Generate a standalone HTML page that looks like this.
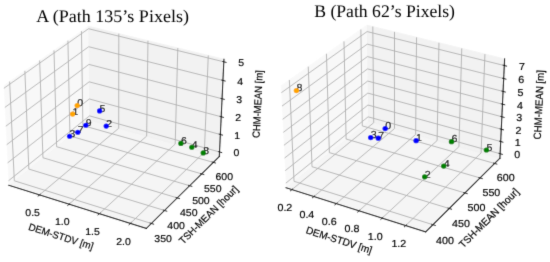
<!DOCTYPE html>
<html><head><meta charset="utf-8"><style>
html,body{margin:0;padding:0;background:#fff;}
#c{position:relative;will-change:transform;width:550px;height:262px;overflow:hidden;background:#fff;}
svg text{fill:#000;text-rendering:geometricPrecision;}
</style></head><body><div id="c">
<svg width="550" height="262" viewBox="0 0 550 262" style="position:absolute;left:0;top:0">
<defs><filter id="bl" x="-5%" y="-5%" width="110%" height="110%"><feConvolveMatrix order="3" kernelMatrix="0.01134 0.08382 0.01134 0.08382 0.61935 0.08382 0.01134 0.08382 0.01134" preserveAlpha="false" edgeMode="none"/></filter></defs>
<rect width="550" height="262" fill="#fff"/>
<g filter="url(#bl)">
<svg x="-104.548" y="-28.626" width="423.822" height="305.501" viewBox="0 0 460.8 345.6" preserveAspectRatio="none" overflow="visible">
 
 
 <g id="figure_1">
  <g id="patch_1">
   <path d="M 0 345.6 
L 460.8 345.6 
L 460.8 0 
L 0 0 
L 0 345.6 
z
" style="fill: none; opacity: 0"/>
  </g>
  <g id="patch_2">
   <path d="M 103.104 307.584 
L 369.216 307.584 
L 369.216 41.472 
L 103.104 41.472 
L 103.104 307.584 
z
" style="fill: none; opacity: 0"/>
  </g>
  <g id="pane3d_1">
   <g id="patch_3">
    <path d="M 123.197291 241.969309 
L 211.076164 168.307495 
L 209.854564 62.073991 
L 117.770234 129.272941 
" style="fill: #f2f2f2; opacity: 0.5; stroke: #f2f2f2; stroke-linejoin: miter"/>
   </g>
  </g>
  <g id="pane3d_2">
   <g id="patch_4">
    <path d="M 211.076164 168.307495 
L 352.090401 209.294766 
L 357.122702 99.402171 
L 209.854564 62.073991 
" style="fill: #e6e6e6; opacity: 0.5; stroke: #e6e6e6; stroke-linejoin: miter"/>
   </g>
  </g>
  <g id="pane3d_3">
   <g id="patch_5">
    <path d="M 123.197291 241.969309 
L 272.679269 290.790123 
L 352.090401 209.294766 
L 211.076164 168.307495 
" style="fill: #ececec; opacity: 0.5; stroke: #ececec; stroke-linejoin: miter"/>
   </g>
  </g>
  <g id="grid3d_1">
   <g id="Line3DCollection_1">
    <path d="M 156.626679 252.887347 
L 242.720096 177.505137 
L 242.847808 70.436817 
" style="fill: none; stroke: #b0b0b0; stroke-width: 1.0"/>
    <path d="M 188.791888 263.392504 
L 273.108364 186.337806 
L 274.561266 78.475254 
" style="fill: none; stroke: #b0b0b0; stroke-width: 1.0"/>
    <path d="M 221.706375 274.142375 
L 304.144787 195.358869 
L 306.980939 86.692696 
" style="fill: none; stroke: #b0b0b0; stroke-width: 1.0"/>
    <path d="M 255.39663 285.145613 
L 335.850326 204.574418 
L 340.130683 95.095189 
" style="fill: none; stroke: #b0b0b0; stroke-width: 1.0"/>
   </g>
  </g>
  <g id="grid3d_2">
   <g id="Line3DCollection_2">
    <path d="M 124.126877 124.634152 
L 129.24222 236.90233 
L 278.164227 285.161206 
" style="fill: none; stroke: #b0b0b0; stroke-width: 1.0"/>
    <path d="M 140.711972 112.531105 
L 145.028925 223.6696 
L 292.472807 270.477083 
" style="fill: none; stroke: #b0b0b0; stroke-width: 1.0"/>
    <path d="M 156.792903 100.795974 
L 160.35635 210.821849 
L 306.343386 256.242457 
" style="fill: none; stroke: #b0b0b0; stroke-width: 1.0"/>
    <path d="M 172.392316 89.412233 
L 175.244249 198.342517 
L 319.795772 242.436999 
" style="fill: none; stroke: #b0b0b0; stroke-width: 1.0"/>
    <path d="M 187.531519 78.364332 
L 189.711262 186.21598 
L 332.848597 229.04159 
" style="fill: none; stroke: #b0b0b0; stroke-width: 1.0"/>
    <path d="M 202.230582 67.637626 
L 203.774987 174.427487 
L 345.519402 216.038227 
" style="fill: none; stroke: #b0b0b0; stroke-width: 1.0"/>
   </g>
  </g>
  <g id="grid3d_3">
   <g id="Line3DCollection_3">
    <path d="M 352.319503 204.291764 
L 211.020437 163.461323 
L 122.950615 236.846913 
" style="fill: none; stroke: #b0b0b0; stroke-width: 1.0"/>
    <path d="M 353.223459 184.551669 
L 210.800662 144.34912 
L 121.976946 216.628058 
" style="fill: none; stroke: #b0b0b0; stroke-width: 1.0"/>
    <path d="M 354.142051 164.491955 
L 210.577499 124.942316 
L 120.986909 196.069289 
" style="fill: none; stroke: #b0b0b0; stroke-width: 1.0"/>
    <path d="M 355.075638 144.104798 
L 210.35087 105.234048 
L 119.980086 175.16196 
" style="fill: none; stroke: #b0b0b0; stroke-width: 1.0"/>
    <path d="M 356.02459 123.382113 
L 210.120693 85.217237 
L 118.956047 153.897133 
" style="fill: none; stroke: #b0b0b0; stroke-width: 1.0"/>
    <path d="M 356.98929 102.315548 
L 209.886883 64.88458 
L 117.914347 132.265558 
" style="fill: none; stroke: #b0b0b0; stroke-width: 1.0"/>
   </g>
  </g>
  <g id="axis3d_1">
   <g id="line2d_1">
    <path d="M 123.197291 241.969309 
L 272.679269 290.790123 
" style="fill: none; stroke: #000000; stroke-width: 1.1; stroke-linecap: square"/>
   </g>
   <g id="xtick_1">
    <g id="line2d_2">
     <path d="M 157.376912 252.230454 
L 155.122966 254.203978 
" style="fill: none; stroke: #000000; stroke-width: 0.9; stroke-linecap: square"/>
    </g>
    <g id="text_1">
     <text style="font-size: 11.20px; font-family: 'Liberation Sans'; text-anchor: middle; stroke: #000; stroke-width: 0.20" x="149.122523" y="276.365155" transform="rotate(-0 149.122523 276.365155)" textLength="15.902" lengthAdjust="spacingAndGlyphs">0.5</text>
    </g>
   </g>
   <g id="xtick_2">
    <g id="line2d_3">
     <path d="M 189.527329 262.720403 
L 187.317785 264.739649 
" style="fill: none; stroke: #000000; stroke-width: 0.9; stroke-linecap: square"/>
    </g>
    <g id="text_2">
     <text style="font-size: 11.20px; font-family: 'Liberation Sans'; text-anchor: middle; stroke: #000; stroke-width: 0.20" x="181.323024" y="287.093679" transform="rotate(-0 181.323024 287.093679)" textLength="15.902" lengthAdjust="spacingAndGlyphs">1.0</text>
    </g>
   </g>
   <g id="xtick_3">
    <g id="line2d_4">
     <path d="M 222.426127 273.454533 
L 220.263681 275.521108 
" style="fill: none; stroke: #000000; stroke-width: 0.9; stroke-linecap: square"/>
    </g>
    <g id="text_3">
     <text style="font-size: 11.20px; font-family: 'Liberation Sans'; text-anchor: middle; stroke: #000; stroke-width: 0.20" x="214.276503" y="298.07308" transform="rotate(-0 214.276503 298.07308)" textLength="15.902" lengthAdjust="spacingAndGlyphs">1.5</text>
    </g>
   </g>
   <g id="xtick_4">
    <g id="line2d_5">
     <path d="M 256.099747 284.441469 
L 253.987244 286.557057 
" style="fill: none; stroke: #000000; stroke-width: 0.9; stroke-linecap: square"/>
    </g>
    <g id="text_4">
     <text style="font-size: 11.20px; font-family: 'Liberation Sans'; text-anchor: middle; stroke: #000; stroke-width: 0.20" x="248.009686" y="309.312262" transform="rotate(-0 248.009686 309.312262)" textLength="15.902" lengthAdjust="spacingAndGlyphs">2.0</text>
    </g>
   </g>
   <g id="text_5">
    <text style="font-size: 11.20px; font-family: 'Liberation Sans'; text-anchor: middle; stroke: #000; stroke-width: 0.20" x="178.819749" y="303.631238" transform="rotate(-341.912962 178.819749 303.631238)" textLength="73.797" lengthAdjust="spacingAndGlyphs">DEM-STDV [m]</text>
   </g>
  </g>
  <g id="axis3d_2">
   <g id="line2d_6">
    <path d="M 352.090401 209.294766 
L 272.679269 290.790123 
" style="fill: none; stroke: #000000; stroke-width: 1.1; stroke-linecap: square"/>
   </g>
   <g id="xtick_5">
    <g id="line2d_7">
     <path d="M 276.909257 284.754527 
L 280.677415 285.975616 
" style="fill: none; stroke: #000000; stroke-width: 0.9; stroke-linecap: square"/>
    </g>
    <g id="text_6">
     <text style="font-size: 11.20px; font-family: 'Liberation Sans'; text-anchor: middle; stroke: #000; stroke-width: 0.20" x="291.044991" y="306.183083" transform="rotate(-0 291.044991 306.183083)" textLength="19.095" lengthAdjust="spacingAndGlyphs">350</text>
    </g>
   </g>
   <g id="xtick_6">
    <g id="line2d_8">
     <path d="M 291.231271 270.082945 
L 294.959041 271.266362 
" style="fill: none; stroke: #000000; stroke-width: 0.9; stroke-linecap: square"/>
    </g>
    <g id="text_7">
     <text style="font-size: 11.20px; font-family: 'Liberation Sans'; text-anchor: middle; stroke: #000; stroke-width: 0.20" x="305.161676" y="291.281535" transform="rotate(-0 305.161676 291.281535)" textLength="19.095" lengthAdjust="spacingAndGlyphs">400</text>
    </g>
   </g>
   <g id="xtick_7">
    <g id="line2d_9">
     <path d="M 305.115056 255.860289 
L 308.803126 257.00775 
" style="fill: none; stroke: #000000; stroke-width: 0.9; stroke-linecap: square"/>
    </g>
    <g id="text_8">
     <text style="font-size: 11.20px; font-family: 'Liberation Sans'; text-anchor: middle; stroke: #000; stroke-width: 0.20" x="318.845983" y="276.836404" transform="rotate(-0 318.845983 276.836404)" textLength="19.095" lengthAdjust="spacingAndGlyphs">450</text>
    </g>
   </g>
   <g id="xtick_8">
    <g id="line2d_10">
     <path d="M 318.580422 242.066265 
L 322.229474 243.179384 
" style="fill: none; stroke: #000000; stroke-width: 0.9; stroke-linecap: square"/>
    </g>
    <g id="text_9">
     <text style="font-size: 11.20px; font-family: 'Liberation Sans'; text-anchor: middle; stroke: #000; stroke-width: 0.20" x="332.117478" y="262.827037" transform="rotate(-0 332.117478 262.827037)" textLength="19.095" lengthAdjust="spacingAndGlyphs">500</text>
    </g>
   </g>
   <g id="xtick_9">
    <g id="line2d_11">
     <path d="M 331.646003 228.681783 
L 335.25671 229.762079 
" style="fill: none; stroke: #000000; stroke-width: 0.9; stroke-linecap: square"/>
    </g>
    <g id="text_10">
     <text style="font-size: 11.20px; font-family: 'Liberation Sans'; text-anchor: middle; stroke: #000; stroke-width: 0.20" x="344.994562" y="249.234009" transform="rotate(-0 344.994562 249.234009)" textLength="19.095" lengthAdjust="spacingAndGlyphs">550</text>
    </g>
   </g>
   <g id="xtick_10">
    <g id="line2d_12">
     <path d="M 344.329344 215.688872 
L 347.90237 216.737776 
" style="fill: none; stroke: #000000; stroke-width: 0.9; stroke-linecap: square"/>
    </g>
    <g id="text_11">
     <text style="font-size: 11.20px; font-family: 'Liberation Sans'; text-anchor: middle; stroke: #000; stroke-width: 0.20" x="357.49456" y="236.039033" transform="rotate(-0 357.49456 236.039033)" textLength="19.095" lengthAdjust="spacingAndGlyphs">600</text>
    </g>
   </g>
   <g id="text_12">
    <text style="font-size: 11.20px; font-family: 'Liberation Sans'; text-anchor: middle; stroke: #000; stroke-width: 0.20" x="343.109062" y="278.15506" transform="rotate(-45.742112 343.109062 278.15506)" textLength="86.772" lengthAdjust="spacingAndGlyphs">TSH-MEAN [hour]</text>
   </g>
  </g>
  <g id="axis3d_3">
   <g id="line2d_13">
    <path d="M 352.090401 209.294766 
L 357.122702 99.402171 
" style="fill: none; stroke: #000000; stroke-width: 1.1; stroke-linecap: square"/>
   </g>
   <g id="xtick_11">
    <g id="line2d_14">
     <path d="M 351.133501 203.949052 
L 354.694332 204.978006 
" style="fill: none; stroke: #000000; stroke-width: 0.9; stroke-linecap: square"/>
    </g>
    <g id="text_13">
     <text style="font-size: 11.20px; font-family: 'Liberation Sans'; text-anchor: middle; stroke: #000; stroke-width: 0.20" x="370.604559" y="209.294938" transform="rotate(-0 370.604559 209.294938)" textLength="6.362" lengthAdjust="spacingAndGlyphs">0</text>
    </g>
   </g>
   <g id="xtick_12">
    <g id="line2d_15">
     <path d="M 352.027575 184.214099 
L 355.618099 185.227618 
" style="fill: none; stroke: #000000; stroke-width: 0.9; stroke-linecap: square"/>
    </g>
    <g id="text_14">
     <text style="font-size: 11.20px; font-family: 'Liberation Sans'; text-anchor: middle; stroke: #000; stroke-width: 0.20" x="371.652174" y="189.593844" transform="rotate(-0 371.652174 189.593844)" textLength="6.362" lengthAdjust="spacingAndGlyphs">1</text>
    </g>
   </g>
   <g id="xtick_13">
    <g id="line2d_16">
     <path d="M 352.93612 164.159741 
L 356.556835 165.157188 
" style="fill: none; stroke: #000000; stroke-width: 0.9; stroke-linecap: square"/>
    </g>
    <g id="text_15">
     <text style="font-size: 11.20px; font-family: 'Liberation Sans'; text-anchor: middle; stroke: #000; stroke-width: 0.20" x="372.716699" y="169.574738" transform="rotate(-0 372.716699 169.574738)" textLength="6.362" lengthAdjust="spacingAndGlyphs">2</text>
    </g>
   </g>
   <g id="xtick_14">
    <g id="line2d_17">
     <path d="M 353.859489 143.778159 
L 357.510907 144.758872 
" style="fill: none; stroke: #000000; stroke-width: 0.9; stroke-linecap: square"/>
    </g>
    <g id="text_16">
     <text style="font-size: 11.20px; font-family: 'Liberation Sans'; text-anchor: middle; stroke: #000; stroke-width: 0.20" x="373.798548" y="149.229856" transform="rotate(-0 373.798548 149.229856)" textLength="6.362" lengthAdjust="spacingAndGlyphs">3</text>
    </g>
   </g>
   <g id="xtick_15">
    <g id="line2d_18">
     <path d="M 354.798049 123.061279 
L 358.480693 124.024569 
" style="fill: none; stroke: #000000; stroke-width: 0.9; stroke-linecap: square"/>
    </g>
    <g id="text_17">
     <text style="font-size: 11.20px; font-family: 'Liberation Sans'; text-anchor: middle; stroke: #000; stroke-width: 0.20" x="374.898146" y="128.551181" transform="rotate(-0 374.898146 128.551181)" textLength="6.362" lengthAdjust="spacingAndGlyphs">4</text>
    </g>
   </g>
   <g id="xtick_16">
    <g id="line2d_19">
     <path d="M 355.752177 102.000759 
L 359.466586 102.945909 
" style="fill: none; stroke: #000000; stroke-width: 0.9; stroke-linecap: square"/>
    </g>
    <g id="text_18">
     <text style="font-size: 11.20px; font-family: 'Liberation Sans'; text-anchor: middle; stroke: #000; stroke-width: 0.20" x="376.015934" y="107.530431" transform="rotate(-0 376.015934 107.530431)" textLength="6.362" lengthAdjust="spacingAndGlyphs">5</text>
    </g>
   </g>
   <g id="text_19">
    <text style="font-size: 11.20px; font-family: 'Liberation Sans'; text-anchor: middle; stroke: #000; stroke-width: 0.20" x="397.683716" y="150.269131" transform="rotate(-87.378092 397.683716 150.269131)" textLength="76.731" lengthAdjust="spacingAndGlyphs">CHM-MEAN [m]</text>
   </g>
  </g>
  <g id="axes_1"/>
 </g>
<g id="ptsA"><text x="197.61" y="152.64" style="font-size:11.20px;font-family:'Liberation Sans';stroke:#000;stroke-width:0.20" textLength="6.362" lengthAdjust="spacingAndGlyphs">0</text><text x="192.60" y="162.37" style="font-size:11.20px;font-family:'Liberation Sans';stroke:#000;stroke-width:0.20" textLength="6.362" lengthAdjust="spacingAndGlyphs">1</text><text x="221.96" y="158.75" style="font-size:11.20px;font-family:'Liberation Sans';stroke:#000;stroke-width:0.20" textLength="6.362" lengthAdjust="spacingAndGlyphs">5</text><text x="206.96" y="174.92" style="font-size:11.20px;font-family:'Liberation Sans';stroke:#000;stroke-width:0.20" textLength="6.362" lengthAdjust="spacingAndGlyphs">9</text><text x="229.14" y="175.94" style="font-size:11.20px;font-family:'Liberation Sans';stroke:#000;stroke-width:0.20" textLength="6.362" lengthAdjust="spacingAndGlyphs">2</text><text x="198.26" y="182.95" style="font-size:11.20px;font-family:'Liberation Sans';stroke:#000;stroke-width:0.20" textLength="6.362" lengthAdjust="spacingAndGlyphs">7</text><text x="189.34" y="187.48" style="font-size:11.20px;font-family:'Liberation Sans';stroke:#000;stroke-width:0.20" textLength="6.362" lengthAdjust="spacingAndGlyphs">3</text><text x="310.35" y="195.51" style="font-size:11.20px;font-family:'Liberation Sans';stroke:#000;stroke-width:0.20" textLength="6.362" lengthAdjust="spacingAndGlyphs">6</text><text x="322.20" y="199.81" style="font-size:11.20px;font-family:'Liberation Sans';stroke:#000;stroke-width:0.20" textLength="6.362" lengthAdjust="spacingAndGlyphs">4</text><text x="334.60" y="206.26" style="font-size:11.20px;font-family:'Liberation Sans';stroke:#000;stroke-width:0.20" textLength="6.362" lengthAdjust="spacingAndGlyphs">8</text><circle cx="197.61" cy="151.73" r="2.90" fill="#ffa500"/><circle cx="192.60" cy="161.46" r="2.90" fill="#ffa500"/><circle cx="221.96" cy="157.84" r="2.90" fill="#0000ff"/><circle cx="206.96" cy="174.02" r="2.90" fill="#0000ff"/><circle cx="229.14" cy="175.04" r="2.90" fill="#0000ff"/><circle cx="198.26" cy="182.05" r="2.90" fill="#0000ff"/><circle cx="189.34" cy="186.57" r="2.90" fill="#0000ff"/><circle cx="310.35" cy="194.61" r="2.90" fill="#008000"/><circle cx="322.20" cy="198.90" r="2.90" fill="#008000"/><circle cx="334.60" cy="205.35" r="2.90" fill="#008000"/></g></svg>
<svg x="170.976" y="-30.950" width="430.453" height="312.344" viewBox="0 0 460.8 345.6" preserveAspectRatio="none" overflow="visible">
 
 
 <g id="figure_1">
  <g id="patch_1">
   <path d="M 0 345.6 
L 460.8 345.6 
L 460.8 0 
L 0 0 
L 0 345.6 
z
" style="fill: none; opacity: 0"/>
  </g>
  <g id="patch_2">
   <path d="M 103.104 307.584 
L 369.216 307.584 
L 369.216 41.472 
L 103.104 41.472 
L 103.104 307.584 
z
" style="fill: none; opacity: 0"/>
  </g>
  <g id="pane3d_1">
   <g id="patch_3">
    <path d="M 123.197291 241.969309 
L 211.076164 168.307495 
L 209.854564 62.073991 
L 117.770234 129.272941 
" style="fill: #f2f2f2; opacity: 0.5; stroke: #f2f2f2; stroke-linejoin: miter"/>
   </g>
  </g>
  <g id="pane3d_2">
   <g id="patch_4">
    <path d="M 211.076164 168.307495 
L 352.090401 209.294766 
L 357.122702 99.402171 
L 209.854564 62.073991 
" style="fill: #e6e6e6; opacity: 0.5; stroke: #e6e6e6; stroke-linejoin: miter"/>
   </g>
  </g>
  <g id="pane3d_3">
   <g id="patch_5">
    <path d="M 123.197291 241.969309 
L 272.679269 290.790123 
L 352.090401 209.294766 
L 211.076164 168.307495 
" style="fill: #ececec; opacity: 0.5; stroke: #ececec; stroke-linejoin: miter"/>
   </g>
  </g>
  <g id="grid3d_1">
   <g id="Line3DCollection_1">
    <path d="M 129.48295 244.022205 
L 217.030888 170.038298 
L 216.060814 63.647094 
" style="fill: none; stroke: #b0b0b0; stroke-width: 1.0"/>
    <path d="M 153.014644 251.707656 
L 239.303994 176.512211 
L 239.284538 69.533631 
" style="fill: none; stroke: #b0b0b0; stroke-width: 1.0"/>
    <path d="M 176.950074 259.524968 
L 261.927462 183.087959 
L 262.889426 75.516782 
" style="fill: none; stroke: #b0b0b0; stroke-width: 1.0"/>
    <path d="M 201.299721 267.477562 
L 284.909622 189.767966 
L 286.88494 81.598946 
" style="fill: none; stroke: #b0b0b0; stroke-width: 1.0"/>
    <path d="M 226.07443 275.568982 
L 308.259075 196.55473 
L 311.280857 87.7826 
" style="fill: none; stroke: #b0b0b0; stroke-width: 1.0"/>
    <path d="M 251.28543 283.802895 
L 331.984695 203.450831 
L 336.087284 94.070306 
" style="fill: none; stroke: #b0b0b0; stroke-width: 1.0"/>
   </g>
  </g>
  <g id="grid3d_2">
   <g id="Line3DCollection_2">
    <path d="M 126.727327 122.736462 
L 131.716061 234.828707 
L 280.407943 282.858602 
" style="fill: none; stroke: #b0b0b0; stroke-width: 1.0"/>
    <path d="M 146.954917 107.975289 
L 150.976931 218.683864 
L 297.858004 264.950547 
" style="fill: none; stroke: #b0b0b0; stroke-width: 1.0"/>
    <path d="M 166.433287 93.760861 
L 169.55476 203.111559 
L 314.657247 247.71039 
" style="fill: none; stroke: #b0b0b0; stroke-width: 1.0"/>
    <path d="M 185.203308 80.063354 
L 187.485249 188.081868 
L 330.841416 231.101451 
" style="fill: none; stroke: #b0b0b0; stroke-width: 1.0"/>
    <path d="M 203.302929 66.855075 
L 204.801652 173.566915 
L 346.443683 215.089687 
" style="fill: none; stroke: #b0b0b0; stroke-width: 1.0"/>
   </g>
  </g>
  <g id="grid3d_3">
   <g id="Line3DCollection_3">
    <path d="M 352.317714 204.330818 
L 211.020872 163.499149 
L 122.95254 236.886901 
" style="fill: none; stroke: #b0b0b0; stroke-width: 1.0"/>
    <path d="M 352.935026 190.850301 
L 210.87077 150.445829 
L 122.287687 223.080781 
" style="fill: none; stroke: #b0b0b0; stroke-width: 1.0"/>
    <path d="M 353.559146 177.221108 
L 210.71909 137.255421 
L 121.615221 209.11659 
" style="fill: none; stroke: #b0b0b0; stroke-width: 1.0"/>
    <path d="M 354.190188 163.440767 
L 210.56581 123.925754 
L 120.935011 194.991599 
" style="fill: none; stroke: #b0b0b0; stroke-width: 1.0"/>
    <path d="M 354.828267 149.506748 
L 210.410902 110.454612 
L 120.246924 180.703014 
" style="fill: none; stroke: #b0b0b0; stroke-width: 1.0"/>
    <path d="M 355.473502 135.416468 
L 210.254342 96.839728 
L 119.55082 166.247975 
" style="fill: none; stroke: #b0b0b0; stroke-width: 1.0"/>
    <path d="M 356.126014 121.167282 
L 210.096102 83.078792 
L 118.84656 151.623558 
" style="fill: none; stroke: #b0b0b0; stroke-width: 1.0"/>
    <path d="M 356.785926 106.756487 
L 209.936156 69.169439 
L 118.133999 136.826767 
" style="fill: none; stroke: #b0b0b0; stroke-width: 1.0"/>
   </g>
  </g>
  <g id="axis3d_1">
   <g id="line2d_1">
    <path d="M 123.197291 241.969309 
L 272.679269 290.790123 
" style="fill: none; stroke: #000000; stroke-width: 1.1; stroke-linecap: square"/>
   </g>
   <g id="xtick_1">
    <g id="line2d_2">
     <path d="M 130.245251 243.37801 
L 127.955081 245.313358 
" style="fill: none; stroke: #000000; stroke-width: 0.9; stroke-linecap: square"/>
    </g>
    <g id="text_1">
     <text style="font-size: 11.20px; font-family: 'Liberation Sans'; text-anchor: middle; stroke: #000; stroke-width: 0.20" x="121.951175" y="267.312238" transform="rotate(-0 121.951175 267.312238)" textLength="15.902" lengthAdjust="spacingAndGlyphs">0.2</text>
    </g>
   </g>
   <g id="xtick_2">
    <g id="line2d_3">
     <path d="M 153.766505 251.05246 
L 151.507673 253.020882 
" style="fill: none; stroke: #000000; stroke-width: 0.9; stroke-linecap: square"/>
    </g>
    <g id="text_2">
     <text style="font-size: 11.20px; font-family: 'Liberation Sans'; text-anchor: middle; stroke: #000; stroke-width: 0.20" x="145.506699" y="275.160439" transform="rotate(-0 145.506699 275.160439)" textLength="15.902" lengthAdjust="spacingAndGlyphs">0.4</text>
    </g>
   </g>
   <g id="xtick_3">
    <g id="line2d_4">
     <path d="M 177.691023 258.858486 
L 175.464946 260.860838 
" style="fill: none; stroke: #000000; stroke-width: 0.9; stroke-linecap: square"/>
    </g>
    <g id="text_3">
     <text style="font-size: 11.20px; font-family: 'Liberation Sans'; text-anchor: middle; stroke: #000; stroke-width: 0.20" x="169.467894" y="283.143801" transform="rotate(-0 169.467894 283.143801)" textLength="15.902" lengthAdjust="spacingAndGlyphs">0.6</text>
    </g>
   </g>
   <g id="xtick_4">
    <g id="line2d_5">
     <path d="M 202.029266 266.799501 
L 199.837422 268.836667 
" style="fill: none; stroke: #000000; stroke-width: 0.9; stroke-linecap: square"/>
    </g>
    <g id="text_4">
     <text style="font-size: 11.20px; font-family: 'Liberation Sans'; text-anchor: middle; stroke: #000; stroke-width: 0.20" x="193.845331" y="291.265847" transform="rotate(-0 193.845331 291.265847)" textLength="15.902" lengthAdjust="spacingAndGlyphs">0.8</text>
    </g>
   </g>
   <g id="xtick_5">
    <g id="line2d_6">
     <path d="M 226.792059 274.879037 
L 224.635988 276.951934 
" style="fill: none; stroke: #000000; stroke-width: 0.9; stroke-linecap: square"/>
    </g>
    <g id="text_5">
     <text style="font-size: 11.20px; font-family: 'Liberation Sans'; text-anchor: middle; stroke: #000; stroke-width: 0.20" x="218.649952" y="299.530221" transform="rotate(-0 218.649952 299.530221)" textLength="15.902" lengthAdjust="spacingAndGlyphs">1.0</text>
    </g>
   </g>
   <g id="xtick_6">
    <g id="line2d_7">
     <path d="M 251.990609 283.100751 
L 249.871917 285.210327 
" style="fill: none; stroke: #000000; stroke-width: 0.9; stroke-linecap: square"/>
    </g>
    <g id="text_6">
     <text style="font-size: 11.20px; font-family: 'Liberation Sans'; text-anchor: middle; stroke: #000; stroke-width: 0.20" x="243.893085" y="307.940698" transform="rotate(-0 243.893085 307.940698)" textLength="15.902" lengthAdjust="spacingAndGlyphs">1.2</text>
    </g>
   </g>
   <g id="text_7">
    <text style="font-size: 11.20px; font-family: 'Liberation Sans'; text-anchor: middle; stroke: #000; stroke-width: 0.20" x="178.819749" y="303.631238" transform="rotate(-341.912962 178.819749 303.631238)" textLength="73.797" lengthAdjust="spacingAndGlyphs">DEM-STDV [m]</text>
   </g>
  </g>
  <g id="axis3d_2">
   <g id="line2d_8">
    <path d="M 352.090401 209.294766 
L 272.679269 290.790123 
" style="fill: none; stroke: #000000; stroke-width: 1.1; stroke-linecap: square"/>
   </g>
   <g id="xtick_7">
    <g id="line2d_9">
     <path d="M 279.155066 282.453902 
L 282.916929 283.669045 
" style="fill: none; stroke: #000000; stroke-width: 0.9; stroke-linecap: square"/>
    </g>
    <g id="text_8">
     <text style="font-size: 11.20px; font-family: 'Liberation Sans'; text-anchor: middle; stroke: #000; stroke-width: 0.20" x="293.258633" y="303.846367" transform="rotate(-0 293.258633 303.846367)" textLength="19.095" lengthAdjust="spacingAndGlyphs">400</text>
    </g>
   </g>
   <g id="xtick_8">
    <g id="line2d_10">
     <path d="M 296.621573 264.561078 
L 300.333994 265.730469 
" style="fill: none; stroke: #000000; stroke-width: 0.9; stroke-linecap: square"/>
    </g>
    <g id="text_9">
     <text style="font-size: 11.20px; font-family: 'Liberation Sans'; text-anchor: middle; stroke: #000; stroke-width: 0.20" x="310.474583" y="285.67324" transform="rotate(-0 310.474583 285.67324)" textLength="19.095" lengthAdjust="spacingAndGlyphs">450</text>
    </g>
   </g>
   <g id="xtick_9">
    <g id="line2d_11">
     <path d="M 313.436919 247.335309 
L 317.100935 248.461484 
" style="fill: none; stroke: #000000; stroke-width: 0.9; stroke-linecap: square"/>
    </g>
    <g id="text_10">
     <text style="font-size: 11.20px; font-family: 'Liberation Sans'; text-anchor: middle; stroke: #000; stroke-width: 0.20" x="327.048077" y="268.178288" transform="rotate(-0 327.048077 268.178288)" textLength="19.095" lengthAdjust="spacingAndGlyphs">500</text>
    </g>
   </g>
   <g id="xtick_10">
    <g id="line2d_12">
     <path d="M 329.636851 230.739975 
L 333.253485 231.825286 
" style="fill: none; stroke: #000000; stroke-width: 0.9; stroke-linecap: square"/>
    </g>
    <g id="text_11">
     <text style="font-size: 11.20px; font-family: 'Liberation Sans'; text-anchor: middle; stroke: #000; stroke-width: 0.20" x="343.014419" y="251.324244" transform="rotate(-0 343.014419 251.324244)" textLength="19.095" lengthAdjust="spacingAndGlyphs">550</text>
    </g>
   </g>
   <g id="xtick_11">
    <g id="line2d_13">
     <path d="M 345.254545 214.741088 
L 348.824805 215.78772 
" style="fill: none; stroke: #000000; stroke-width: 0.9; stroke-linecap: square"/>
    </g>
    <g id="text_12">
     <text style="font-size: 11.20px; font-family: 'Liberation Sans'; text-anchor: middle; stroke: #000; stroke-width: 0.20" x="358.406374" y="235.076524" transform="rotate(-0 358.406374 235.076524)" textLength="19.095" lengthAdjust="spacingAndGlyphs">600</text>
    </g>
   </g>
   <g id="text_13">
    <text style="font-size: 11.20px; font-family: 'Liberation Sans'; text-anchor: middle; stroke: #000; stroke-width: 0.20" x="343.109062" y="278.15506" transform="rotate(-45.742112 343.109062 278.15506)" textLength="86.772" lengthAdjust="spacingAndGlyphs">TSH-MEAN [hour]</text>
   </g>
  </g>
  <g id="axis3d_3">
   <g id="line2d_14">
    <path d="M 352.090401 209.294766 
L 357.122702 99.402171 
" style="fill: none; stroke: #000000; stroke-width: 1.1; stroke-linecap: square"/>
   </g>
   <g id="xtick_12">
    <g id="line2d_15">
     <path d="M 351.131732 203.988095 
L 354.692504 205.01708 
" style="fill: none; stroke: #000000; stroke-width: 0.9; stroke-linecap: square"/>
    </g>
    <g id="text_14">
     <text style="font-size: 11.20px; font-family: 'Liberation Sans'; text-anchor: middle; stroke: #000; stroke-width: 0.20" x="370.602487" y="209.333915" transform="rotate(-0 370.602487 209.333915)" textLength="6.362" lengthAdjust="spacingAndGlyphs">0</text>
    </g>
   </g>
   <g id="xtick_13">
    <g id="line2d_16">
     <path d="M 351.742296 190.511076 
L 355.323344 191.529562 
" style="fill: none; stroke: #000000; stroke-width: 0.9; stroke-linecap: square"/>
    </g>
    <g id="text_15">
     <text style="font-size: 11.20px; font-family: 'Liberation Sans'; text-anchor: middle; stroke: #000; stroke-width: 0.20" x="371.317909" y="195.879928" transform="rotate(-0 371.317909 195.879928)" textLength="6.362" lengthAdjust="spacingAndGlyphs">1</text>
    </g>
   </g>
   <g id="xtick_14">
    <g id="line2d_17">
     <path d="M 352.359592 176.885481 
L 355.961146 177.893171 
" style="fill: none; stroke: #000000; stroke-width: 0.9; stroke-linecap: square"/>
    </g>
    <g id="text_16">
     <text style="font-size: 11.20px; font-family: 'Liberation Sans'; text-anchor: middle; stroke: #000; stroke-width: 0.20" x="372.041197" y="182.278009" transform="rotate(-0 372.041197 182.278009)" textLength="6.362" lengthAdjust="spacingAndGlyphs">2</text>
    </g>
   </g>
   <g id="xtick_15">
    <g id="line2d_18">
     <path d="M 352.98373 163.108837 
L 356.606028 164.105431 
" style="fill: none; stroke: #000000; stroke-width: 0.9; stroke-linecap: square"/>
    </g>
    <g id="text_17">
     <text style="font-size: 11.20px; font-family: 'Liberation Sans'; text-anchor: middle; stroke: #000; stroke-width: 0.20" x="372.772482" y="168.525704" transform="rotate(-0 372.772482 168.525704)" textLength="6.362" lengthAdjust="spacingAndGlyphs">3</text>
    </g>
   </g>
   <g id="xtick_16">
    <g id="line2d_19">
     <path d="M 353.614826 149.17862 
L 357.258107 150.163805 
" style="fill: none; stroke: #000000; stroke-width: 0.9; stroke-linecap: square"/>
    </g>
    <g id="text_18">
     <text style="font-size: 11.20px; font-family: 'Liberation Sans'; text-anchor: middle; stroke: #000; stroke-width: 0.20" x="373.511898" y="154.620506" transform="rotate(-0 373.511898 154.620506)" textLength="6.362" lengthAdjust="spacingAndGlyphs">4</text>
    </g>
   </g>
   <g id="xtick_17">
    <g id="line2d_20">
     <path d="M 354.252997 135.092247 
L 357.917504 136.065705 
" style="fill: none; stroke: #000000; stroke-width: 0.9; stroke-linecap: square"/>
    </g>
    <g id="text_19">
     <text style="font-size: 11.20px; font-family: 'Liberation Sans'; text-anchor: middle; stroke: #000; stroke-width: 0.20" x="374.259579" y="140.559851" transform="rotate(-0 374.259579 140.559851)" textLength="6.362" lengthAdjust="spacingAndGlyphs">5</text>
    </g>
   </g>
   <g id="xtick_18">
    <g id="line2d_21">
     <path d="M 354.898361 120.847077 
L 358.584344 121.80848 
" style="fill: none; stroke: #000000; stroke-width: 0.9; stroke-linecap: square"/>
    </g>
    <g id="text_20">
     <text style="font-size: 11.20px; font-family: 'Liberation Sans'; text-anchor: middle; stroke: #000; stroke-width: 0.20" x="375.015667" y="126.341116" transform="rotate(-0 375.015667 126.341116)" textLength="6.362" lengthAdjust="spacingAndGlyphs">6</text>
    </g>
   </g>
   <g id="xtick_19">
    <g id="line2d_22">
     <path d="M 355.551042 106.440411 
L 359.258754 107.389421 
" style="fill: none; stroke: #000000; stroke-width: 0.9; stroke-linecap: square"/>
    </g>
    <g id="text_21">
     <text style="font-size: 11.20px; font-family: 'Liberation Sans'; text-anchor: middle; stroke: #000; stroke-width: 0.20" x="375.780304" y="111.961622" transform="rotate(-0 375.780304 111.961622)" textLength="6.362" lengthAdjust="spacingAndGlyphs">7</text>
    </g>
   </g>
   <g id="text_22">
    <text style="font-size: 11.20px; font-family: 'Liberation Sans'; text-anchor: middle; stroke: #000; stroke-width: 0.20" x="397.683716" y="150.269131" transform="rotate(-87.378092 397.683716 150.269131)" textLength="76.731" lengthAdjust="spacingAndGlyphs">CHM-MEAN [m]</text>
   </g>
  </g>
  <g id="axes_1"/>
 </g>
<g id="ptsB"><text x="134.27" y="135.38" style="font-size:11.20px;font-family:'Liberation Sans';stroke:#000;stroke-width:0.20" textLength="6.362" lengthAdjust="spacingAndGlyphs">8</text><text x="229.33" y="177.42" style="font-size:11.20px;font-family:'Liberation Sans';stroke:#000;stroke-width:0.20" textLength="6.362" lengthAdjust="spacingAndGlyphs">0</text><text x="213.80" y="187.27" style="font-size:11.20px;font-family:'Liberation Sans';stroke:#000;stroke-width:0.20" textLength="6.362" lengthAdjust="spacingAndGlyphs">3</text><text x="221.94" y="188.05" style="font-size:11.20px;font-family:'Liberation Sans';stroke:#000;stroke-width:0.20" textLength="6.362" lengthAdjust="spacingAndGlyphs">7</text><text x="262.41" y="190.81" style="font-size:11.20px;font-family:'Liberation Sans';stroke:#000;stroke-width:0.20" textLength="6.362" lengthAdjust="spacingAndGlyphs">1</text><text x="300.30" y="191.92" style="font-size:11.20px;font-family:'Liberation Sans';stroke:#000;stroke-width:0.20" textLength="6.362" lengthAdjust="spacingAndGlyphs">6</text><text x="337.66" y="201.10" style="font-size:11.20px;font-family:'Liberation Sans';stroke:#000;stroke-width:0.20" textLength="6.362" lengthAdjust="spacingAndGlyphs">5</text><text x="291.95" y="218.92" style="font-size:11.20px;font-family:'Liberation Sans';stroke:#000;stroke-width:0.20" textLength="6.362" lengthAdjust="spacingAndGlyphs">4</text><text x="271.61" y="230.75" style="font-size:11.20px;font-family:'Liberation Sans';stroke:#000;stroke-width:0.20" textLength="6.362" lengthAdjust="spacingAndGlyphs">2</text><circle cx="134.27" cy="134.49" r="2.90" fill="#ffa500"/><circle cx="229.33" cy="176.54" r="2.90" fill="#0000ff"/><circle cx="213.80" cy="186.39" r="2.90" fill="#0000ff"/><circle cx="221.94" cy="187.16" r="2.90" fill="#0000ff"/><circle cx="262.41" cy="189.93" r="2.90" fill="#0000ff"/><circle cx="300.30" cy="191.03" r="2.90" fill="#008000"/><circle cx="337.66" cy="200.22" r="2.90" fill="#008000"/><circle cx="291.95" cy="218.03" r="2.90" fill="#008000"/><circle cx="271.61" cy="229.87" r="2.90" fill="#008000"/></g></svg>
<text x="36.3" y="21.8" style="font-family:'Liberation Serif',serif;font-size:17.7px" textLength="152.6" lengthAdjust="spacingAndGlyphs">A (Path 135&#8217;s Pixels)</text>
<text x="314.2" y="17.0" style="font-family:'Liberation Serif',serif;font-size:17.7px" textLength="140.8" lengthAdjust="spacingAndGlyphs">B (Path 62&#8217;s Pixels)</text>
</g>
</svg></div></body></html>
